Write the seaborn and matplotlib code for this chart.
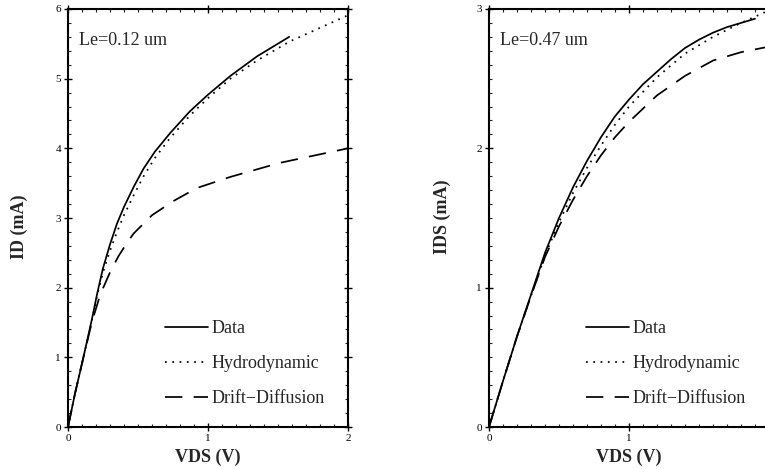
import numpy as np
import pandas as pd
import matplotlib
matplotlib.use("Agg")
import matplotlib.pyplot as plt
import seaborn as sns
from matplotlib.ticker import MultipleLocator, FixedLocator, FixedFormatter

# ---- Left panel data (Le = 0.12 um) ----
l_data_x = [0, 0.05, 0.11, 0.17, 0.21, 0.25, 0.3, 0.35, 0.4, 0.47, 0.54, 0.62, 0.73, 0.87, 1.0, 1.16, 1.35, 1.58]
l_data_y = [0, 0.48, 1.0, 1.54, 1.93, 2.28, 2.62, 2.92, 3.16, 3.45, 3.71, 3.95, 4.22, 4.53, 4.77, 5.04, 5.32, 5.6]
l_hd_x = [0, 0.05, 0.11, 0.17, 0.21, 0.25, 0.3, 0.35, 0.4, 0.47, 0.54, 0.62, 0.73, 0.87, 1.0, 1.16, 1.35, 1.58, 1.8, 2.0]
l_hd_y = [0, 0.48, 1.0, 1.52, 1.9, 2.22, 2.53, 2.8, 3.04, 3.33, 3.6, 3.86, 4.15, 4.47, 4.72, 5.0, 5.26, 5.53, 5.73, 5.91]
l_dd_x = [0, 0.05, 0.11, 0.17, 0.23, 0.3, 0.36, 0.42, 0.47, 0.6, 0.75, 0.92, 1.16, 1.51, 2.0]
l_dd_y = [0, 0.48, 1.0, 1.5, 1.9, 2.22, 2.45, 2.64, 2.78, 3.04, 3.24, 3.43, 3.59, 3.79, 4.0]

# ---- Right panel data (Le = 0.47 um) ----
r_data_x = [0, 0.1, 0.2, 0.3, 0.4, 0.5, 0.6, 0.7, 0.8, 0.9, 1.0, 1.1, 1.2, 1.3, 1.4, 1.5, 1.6, 1.7, 1.8, 1.9]
r_data_y = [0, 0.33, 0.65, 0.95, 1.25, 1.5, 1.72, 1.91, 2.08, 2.23, 2.35, 2.46, 2.55, 2.64, 2.72, 2.78, 2.83, 2.87, 2.9, 2.93]
r_hd_x = [0, 0.1, 0.2, 0.3, 0.4, 0.5, 0.6, 0.7, 0.8, 0.9, 1.0, 1.2, 1.4, 1.6, 1.8, 2.0]
r_hd_y = [0, 0.33, 0.65, 0.94, 1.23, 1.47, 1.68, 1.86, 2.02, 2.17, 2.3, 2.51, 2.68, 2.8, 2.9, 2.99]
r_dd_x = [0, 0.1, 0.2, 0.3, 0.4, 0.5, 0.6, 0.7, 0.8, 0.9, 1.0, 1.2, 1.4, 1.6, 1.8, 2.0]
r_dd_y = [0, 0.33, 0.65, 0.94, 1.22, 1.44, 1.63, 1.8, 1.95, 2.08, 2.19, 2.38, 2.52, 2.63, 2.69, 2.73]

labels = ["Data", "Hydrodynamic", "Drift\u2212Diffusion"]
panel_titles = ["Le=0.12 um", "Le=0.47 um"]
ylabels = ["ID (mA)", "IDS (mA)"]
xlabel = "VDS (V)"
left_xticklabels = ["0", "1", "2"]
right_xticklabels = ["0", "1", ""]

sns.set_style("ticks")
plt.rcParams['font.family'] = ['Liberation Serif', 'DejaVu Serif']

fig = plt.figure(figsize=(7.65, 4.69), dpi=100)
W, H = 765, 469
axL = fig.add_axes([68 / W, (H - 427) / H, 280 / W, 418 / H])
axR = fig.add_axes([489 / W, (H - 427) / H, 280 / W, 418 / H])

styles = [dict(linestyle='-'),
          dict(linestyle=(0, (1.0, 3.2))),
          dict(linestyle=(0, (10, 6.5)))]

def draw(ax, series, ymax, yminor, title, ylab, ylab_x, ylab_y, xtl):
    for (x, y), lab, st in zip(series, labels, styles):
        df = pd.DataFrame({"x": x, "y": y})
        sns.lineplot(data=df, x="x", y="y", ax=ax, color='black', lw=1.25,
                     label=lab, **st)
    ax.set_xlim(0, 2)
    ax.set_ylim(0, ymax)
    ax.xaxis.set_major_locator(FixedLocator([0, 1, 2]))
    ax.xaxis.set_major_formatter(FixedFormatter(xtl))
    ax.xaxis.set_minor_locator(MultipleLocator(0.1))
    ax.yaxis.set_major_locator(MultipleLocator(1))
    ax.yaxis.set_minor_locator(MultipleLocator(yminor))
    ax.tick_params(which='major', direction='inout', length=6, width=1.0,
                   top=True, right=True, labelsize=8, pad=2, colors='black')
    ax.tick_params(which='minor', direction='in', length=2.5, width=0.8,
                   top=True, right=True)
    for sp in ax.spines.values():
        sp.set_linewidth(1.5)
        sp.set_color('black')
    ax.set_xlabel(xlabel, fontsize=13, fontweight='bold', va='center')
    ax.xaxis.set_label_coords(0.5, (427 - 457) / 418)
    ax.set_ylabel("")
    fig.text(ylab_x / W, 1 - ylab_y / H, ylab, rotation=90, fontsize=13,
             fontweight='bold', ha='center', va='center')
    ax.text(0.04, 0.925, title, transform=ax.transAxes, fontsize=13,
            ha='left', va='center')
    leg = ax.legend(loc='upper left', bbox_to_anchor=(0.348, 0.256),
                    frameon=False, fontsize=13, handlelength=2.35,
                    handletextpad=0.2, labelspacing=1.0, borderpad=0,
                    borderaxespad=0)
    for h in leg.get_lines():
        h.set_linewidth(1.25)

draw(axL, [(l_data_x, l_data_y), (l_hd_x, l_hd_y), (l_dd_x, l_dd_y)],
     6, 0.2, panel_titles[0], ylabels[0], 19, 227, left_xticklabels)
draw(axR, [(r_data_x, r_data_y), (r_hd_x, r_hd_y), (r_dd_x, r_dd_y)],
     3, 0.1, panel_titles[1], ylabels[1], 442, 217, right_xticklabels)

fig.savefig("out.png", dpi=100)
